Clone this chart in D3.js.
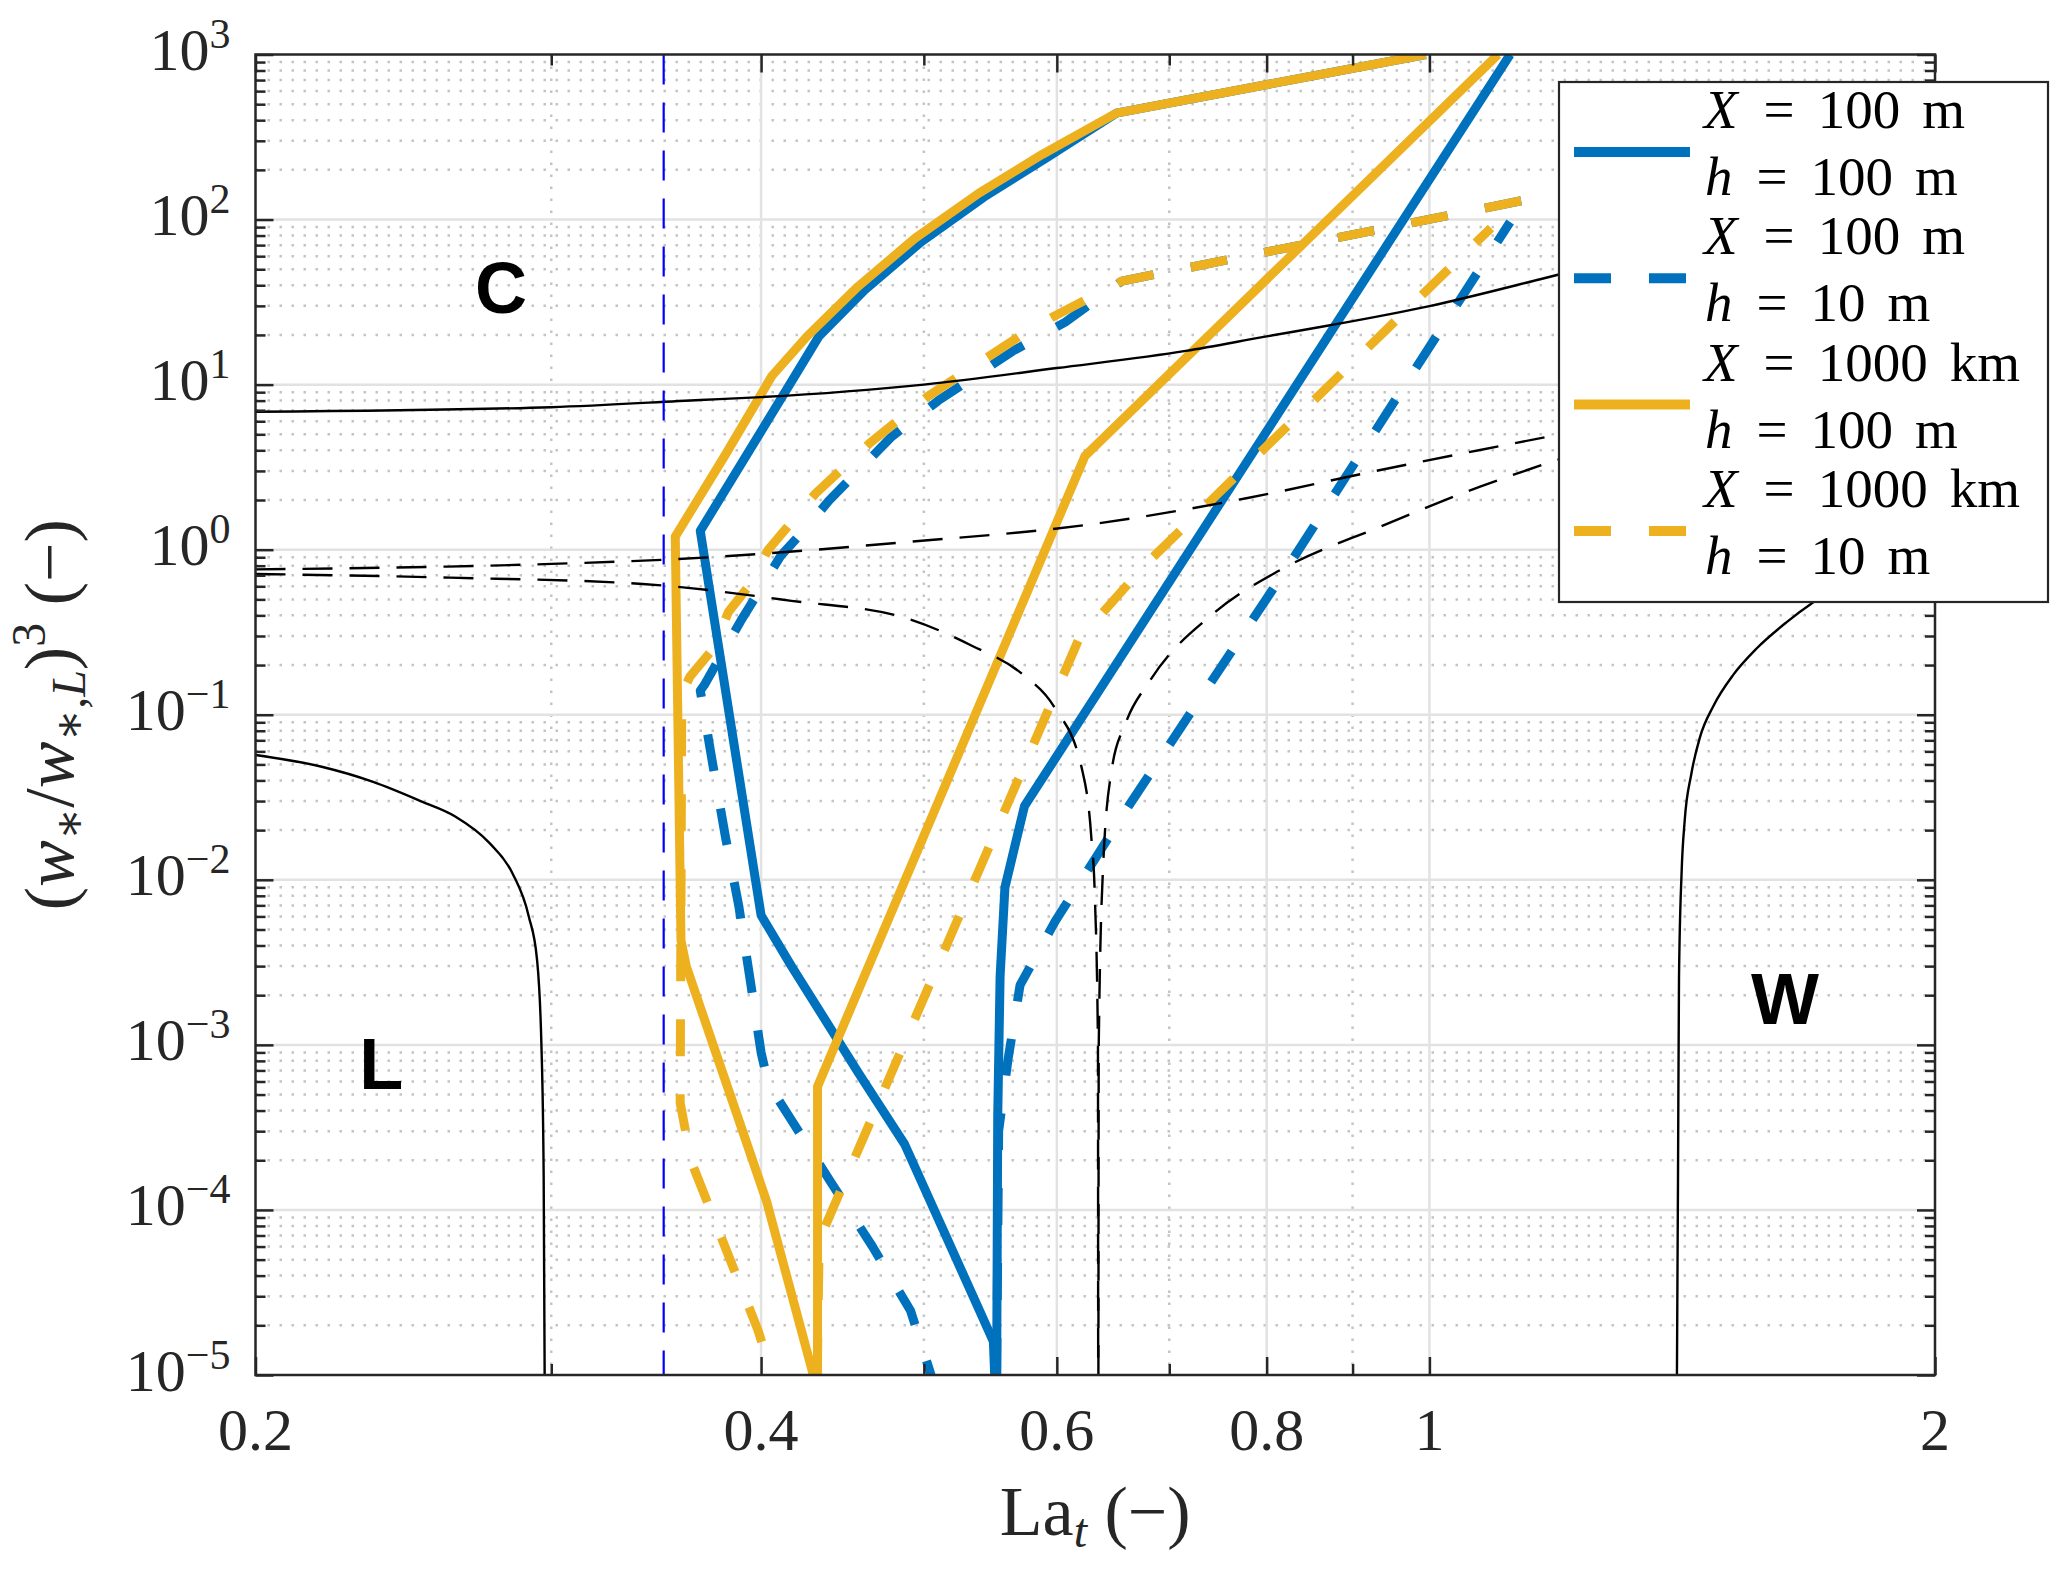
<!DOCTYPE html>
<html>
<head>
<meta charset="utf-8">
<script src="https://cdn.jsdelivr.net/npm/d3@7"></script>
<style>
  body { margin: 0; background: #fff; }
</style>
</head>
<body>
<div id="chart"></div>
<script>
// axis ticks
const xTicks = [0.2, 0.4, 0.6, 0.8, 1, 2];
const xTickLabels = ["0.2", "0.4", "0.6", "0.8", "1", "2"];
const xMinorTicks = [0.3, 0.5, 0.7, 0.9];
const yTicks = [1e-5, 1e-4, 1e-3, 1e-2, 1e-1, 1, 10, 100, 1000];
const yTickExponents = ["−5", "−4", "−3", "−2", "−1", "0", "1", "2", "3"];

// coloured curves, [La_t, (w*/w*L)^3], each series in two branches
const blueSolid = [
  [[0.995, 1000], [0.651, 441], [0.593, 240], [0.543, 137], [0.498, 73], [0.461, 37.4], [0.433, 19.6],
   [0.419, 11.3], [0.368, 1.3], [0.400, 6.1e-3], [0.417, 3.0e-3], [0.457, 6.8e-4], [0.487, 2.5e-4],
   [0.550, 1.6e-5], [0.551, 1e-5]],
  [[0.5525, 1e-5], [0.5533, 3.7e-4], [0.5551, 2.6e-3], [0.5588, 9.0e-3], [0.574, 0.028], [1.117, 1000]]
];
const blueDashed = [
  [[1.134, 130], [0.656, 42.4], [0.607, 23.9], [0.565, 16.0], [0.510, 8.0], [0.478, 4.8], [0.439, 1.98],
   [0.424, 1.30], [0.411, 0.92], [0.389, 0.37], [0.370, 0.151], [0.368, 0.14], [0.374, 0.053],
   [0.381, 0.018], [0.388, 6.9e-3], [0.394, 2.5e-3], [0.400, 9e-4], [0.404, 5.8e-4], [0.417, 3.5e-4],
   [0.441, 1.43e-4], [0.466, 6.0e-5], [0.491, 2.45e-5], [0.505, 1e-5]],
  [[0.5525, 1e-5], [0.554, 3e-4], [0.561, 8e-4], [0.5705, 2.3e-3], [0.5986, 5.6e-3], [0.6323, 0.0134],
   [0.6633, 0.0288], [0.825, 0.81], [0.972, 10.8], [1.117, 96.6]]
];
const orangeSolid = [
  [[0.995, 1000], [0.651, 441], [0.588, 248], [0.539, 144], [0.494, 77], [0.457, 39.4], [0.426, 19.6],
   [0.406, 11.3], [0.381, 3.78], [0.3556, 1.2], [0.3584, 4.3e-3], [0.361, 3.0e-3], [0.403, 1.13e-4],
   [0.4297, 1e-5]],
  [[0.4322, 1e-5], [0.4322, 5.6e-4], [0.6236, 3.7], [1.0986, 1000]]
];
const orangeDashed = [
  [[1.134, 130], [0.656, 42.4], [0.597, 25.8], [0.570, 19.6], [0.502, 8.4], [0.464, 4.4], [0.431, 2.19],
   [0.417, 1.47], [0.404, 1.0], [0.393, 0.595], [0.3825, 0.42], [0.3747, 0.252], [0.3628, 0.17],
   [0.3588, 0.134], [0.358, 4.45e-4], [0.3636, 1.95e-4], [0.3983, 1.87e-5], [0.406, 1e-5]],
  [[0.432, 1e-5], [0.433, 5e-5], [0.4366, 7.9e-5], [0.618, 0.283], [0.677, 0.807], [0.844, 7.2], [1.088, 88.9]]
];

// black regime boundaries
const boundaryC = [[0.2, 6.85], [0.3, 7.3], [0.368, 8.07], [0.4, 8.4], [0.5, 10.0], [0.6, 12.6], [0.716, 16.0],
  [0.8, 19.6], [0.871, 22.8], [1.0, 29.9], [1.164, 43.5], [1.5, 85], [2.0, 170]];
const boundaryL = [[0.2, 0.057], [0.219, 0.0484], [0.235, 0.0392], [0.251, 0.0299], [0.263, 0.0242],
  [0.2755, 0.0168], [0.2844, 0.011], [0.2909, 6.0e-3], [0.2942, 3.3e-3], [0.296, 9.8e-4], [0.2969, 1.6e-4],
  [0.2973, 1e-5]];
const boundaryW = [[1.404, 1e-5], [1.406, 1.38e-4], [1.408, 2.55e-3], [1.413, 0.011], [1.419, 0.0228],
  [1.432, 0.0438], [1.449, 0.073], [1.476, 0.113], [1.517, 0.175], [1.566, 0.252], [1.632, 0.364],
  [1.696, 0.487], [1.8, 0.7], [2.0, 1.2]];
const dashedUpper = [[0.2, 0.76], [0.26, 0.79], [0.3, 0.82], [0.355, 0.875], [0.487, 1.11], [0.634, 1.44],
  [0.778, 2.05], [0.935, 3.04], [1.072, 4.02], [1.191, 4.95], [2.0, 13]];
const dashedLower = [
  [[0.2, 0.713], [0.261, 0.677], [0.34, 0.62], [0.417, 0.49], [0.487, 0.387], [0.534, 0.262], [0.572, 0.177],
   [0.598, 0.111], [0.621, 0.047], [0.629, 0.0183], [0.632, 8.3e-3], [0.6348, 1e-3], [0.635, 1e-5]],
  [[0.6352, 1e-5], [0.6355, 1e-3], [0.6394, 0.0124], [0.647, 0.047], [0.659, 0.0875], [0.682, 0.162],
   [0.744, 0.412], [0.815, 0.753], [0.935, 1.38], [1.072, 2.41], [1.191, 3.49], [2.0, 12]]
];
const verticalLa = 0.35;

const regionNames = ["C", "L", "W"];
const regionLa = [0.28, 0.2376, 1.628];
const regionW = [27.2, 5.4e-4, 1.34e-3];

const legendX = ["100", "100", "1000", "1000"];
const legendXUnit = ["m", "m", "km", "km"];
const legendH = ["100", "10", "100", "10"];

const margin = { top: 54.5, right: 132, bottom: 195, left: 255.5 },
    width = 2067 - margin.left - margin.right,
    height = 1570 - margin.top - margin.bottom;

const serif = "'Liberation Serif', 'DejaVu Serif', serif";
const ink = "#262626";
const blue = "#0072BD", orange = "#EDB120";

const svg = d3.select("#chart")
    .append("svg")
    .attr("width", 2067)
    .attr("height", 1570)
    .append("g")
    .attr("transform", `translate(${margin.left},${margin.top})`);

const x = d3.scaleLog().domain([0.2, 2]).range([0, width]);
const y = d3.scaleLog().domain([1e-5, 1e3]).range([height, 0]);

const yMinor = [];
for (let k = -5; k < 3; k++) for (let m = 2; m <= 9; m++) yMinor.push(m * Math.pow(10, k));

// grid
const grid = svg.append("g");
grid.selectAll(".xminor").data(xMinorTicks).enter().append("line")
    .attr("x1", d => x(d)).attr("x2", d => x(d)).attr("y1", 0).attr("y2", height)
    .attr("stroke", "#c4c4c4").attr("stroke-width", 2.5).attr("stroke-dasharray", "2.5,9.5");
grid.selectAll(".yminor").data(yMinor).enter().append("line")
    .attr("x1", 0).attr("x2", width).attr("y1", d => y(d)).attr("y2", d => y(d))
    .attr("stroke", "#c4c4c4").attr("stroke-width", 2.5).attr("stroke-dasharray", "2.5,9.5");
grid.selectAll(".xmajor").data(xTicks.slice(1, -1)).enter().append("line")
    .attr("x1", d => x(d)).attr("x2", d => x(d)).attr("y1", 0).attr("y2", height)
    .attr("stroke", "#e2e2e2").attr("stroke-width", 2.5);
grid.selectAll(".ymajor").data(yTicks.slice(1, -1)).enter().append("line")
    .attr("x1", 0).attr("x2", width).attr("y1", d => y(d)).attr("y2", d => y(d))
    .attr("stroke", "#e2e2e2").attr("stroke-width", 2.5);

svg.append("clipPath").attr("id", "plot-clip")
    .append("rect").attr("width", width).attr("height", height);

const plot = svg.append("g").attr("clip-path", "url(#plot-clip)");
const straight = d3.line().x(d => x(d[0])).y(d => y(d[1]));
const smooth = d3.line().x(d => x(d[0])).y(d => y(d[1])).curve(d3.curveMonotoneX);

const series = [
  { branches: blueSolid, color: blue, dash: null },
  { branches: blueDashed, color: blue, dash: "37,38" },
  { branches: orangeSolid, color: orange, dash: null },
  { branches: orangeDashed, color: orange, dash: "37,38" }
];

series.forEach(s => {
  plot.selectAll(null).data(s.branches).enter().append("path")
      .attr("d", straight)
      .attr("fill", "none")
      .attr("stroke", s.color)
      .attr("stroke-width", 9)
      .attr("stroke-linejoin", "round")
      .attr("stroke-dasharray", s.dash);
});

// regime boundaries
[boundaryC, boundaryL, boundaryW].forEach(b => {
  plot.append("path").attr("d", smooth(b))
      .attr("fill", "none").attr("stroke", "#000").attr("stroke-width", 2.4);
});
[dashedUpper, ...dashedLower].forEach(b => {
  plot.append("path").attr("d", smooth(b))
      .attr("fill", "none").attr("stroke", "#000").attr("stroke-width", 2.4)
      .attr("stroke-dasharray", "30,17");
});

plot.append("line")
    .attr("x1", x(verticalLa)).attr("x2", x(verticalLa)).attr("y1", 0).attr("y2", height)
    .attr("stroke", "#0000FF").attr("stroke-width", 2.2).attr("stroke-dasharray", "30,18");

plot.selectAll(".region").data(regionNames).enter().append("text")
    .attr("x", (d, i) => x(regionLa[i]))
    .attr("y", (d, i) => y(regionW[i]))
    .attr("text-anchor", "middle")
    .attr("font-family", "'Liberation Sans', Arial, sans-serif")
    .attr("font-weight", "bold")
    .attr("font-size", 72)
    .text(d => d);

// ticks, all inward
function styleTicks(g) {
  g.select(".domain").remove();
  g.selectAll(".tick line").attr("stroke", ink).attr("stroke-width", 2.5);
}
svg.append("g").attr("transform", `translate(0,${height})`)
    .call(d3.axisBottom(x).tickValues(xTicks).tickSizeInner(-18).tickSizeOuter(0).tickFormat("")).call(styleTicks);
svg.append("g").attr("transform", `translate(0,${height})`)
    .call(d3.axisBottom(x).tickValues(xMinorTicks).tickSizeInner(-11).tickSizeOuter(0).tickFormat("")).call(styleTicks);
svg.append("g")
    .call(d3.axisTop(x).tickValues(xTicks).tickSizeInner(-18).tickSizeOuter(0).tickFormat("")).call(styleTicks);
svg.append("g")
    .call(d3.axisTop(x).tickValues(xMinorTicks).tickSizeInner(-11).tickSizeOuter(0).tickFormat("")).call(styleTicks);
svg.append("g")
    .call(d3.axisLeft(y).tickValues(yTicks).tickSizeInner(-18).tickSizeOuter(0).tickFormat("")).call(styleTicks);
svg.append("g")
    .call(d3.axisLeft(y).tickValues(yMinor).tickSizeInner(-10).tickSizeOuter(0).tickFormat("")).call(styleTicks);
svg.append("g").attr("transform", `translate(${width},0)`)
    .call(d3.axisRight(y).tickValues(yTicks).tickSizeInner(-18).tickSizeOuter(0).tickFormat("")).call(styleTicks);
svg.append("g").attr("transform", `translate(${width},0)`)
    .call(d3.axisRight(y).tickValues(yMinor).tickSizeInner(-10).tickSizeOuter(0).tickFormat("")).call(styleTicks);

svg.append("rect").attr("width", width).attr("height", height)
    .attr("fill", "none").attr("stroke", ink).attr("stroke-width", 2.5);

// tick labels
svg.selectAll(".xlab").data(xTickLabels).enter().append("text")
    .attr("x", (d, i) => x(xTicks[i]))
    .attr("y", height + 75)
    .attr("text-anchor", "middle")
    .attr("font-family", serif).attr("font-size", 60).attr("fill", ink)
    .text(d => d);

const ylab = svg.selectAll(".ylab").data(yTickExponents).enter().append("text")
    .attr("x", -25)
    .attr("y", (d, i) => y(yTicks[i]) + 15.5)
    .attr("text-anchor", "end")
    .attr("font-family", serif).attr("font-size", 60).attr("fill", ink);
ylab.append("tspan").text("10");
ylab.append("tspan").attr("font-size", 42).attr("dy", -22).text(d => d);

// axis titles
const xt = svg.append("text")
    .attr("x", width / 2).attr("y", height + 160)
    .attr("text-anchor", "middle")
    .attr("font-family", serif).attr("font-size", 70).attr("fill", ink);
xt.append("tspan").text("La");
xt.append("tspan").attr("font-style", "italic").attr("font-size", 48).attr("dy", 12).text("t");
xt.append("tspan").attr("dy", -12).text(" (−)");

const yt = svg.append("text")
    .attr("transform", `translate(${73 - margin.left},${height / 2}) rotate(-90)`)
    .attr("text-anchor", "middle")
    .attr("font-family", serif).attr("font-size", 70).attr("fill", ink);
yt.append("tspan").text("(");
yt.append("tspan").attr("font-style", "italic").text("w");
yt.append("tspan").attr("font-size", 48).attr("dy", 12).text("∗");
yt.append("tspan").attr("dy", -12).text("/");
yt.append("tspan").attr("font-style", "italic").text("w");
yt.append("tspan").attr("font-size", 48).attr("dy", 12).text("∗,");
yt.append("tspan").attr("font-size", 48).attr("font-style", "italic").text("L");
yt.append("tspan").attr("dy", -12).text(")");
yt.append("tspan").attr("font-size", 48).attr("dy", -28).text("3");
yt.append("tspan").attr("dy", 28).text(" (−)");

// legend
const legend = svg.append("g").attr("transform", `translate(${1559 - margin.left},${82 - margin.top})`);
legend.append("rect").attr("width", 489).attr("height", 520)
    .attr("fill", "#fff").attr("stroke", ink).attr("stroke-width", 2.2);
const entries = legend.selectAll(".entry").data(series).enter().append("g")
    .attr("transform", (d, i) => `translate(0,${i * 126.3})`);
entries.append("line")
    .attr("x1", 15).attr("x2", 131).attr("y1", 70).attr("y2", 70)
    .attr("stroke", d => d.color).attr("stroke-width", 10)
    .attr("stroke-dasharray", d => d.dash);
const l1 = entries.append("text").attr("x", 145).attr("y", 46)
    .attr("font-family", serif).attr("font-size", 55).attr("fill", "#000");
l1.append("tspan").attr("font-style", "italic").text("X");
l1.append("tspan").attr("dx", 26).text("=");
l1.append("tspan").attr("dx", 23).text((d, i) => legendX[i]);
l1.append("tspan").attr("dx", 22).text((d, i) => legendXUnit[i]);
const l2 = entries.append("text").attr("x", 146).attr("y", 113)
    .attr("font-family", serif).attr("font-size", 55).attr("fill", "#000");
l2.append("tspan").attr("font-style", "italic").text("h");
l2.append("tspan").attr("dx", 24).text("=");
l2.append("tspan").attr("dx", 23).text((d, i) => legendH[i]);
l2.append("tspan").attr("dx", 22).text("m");
</script>
</body>
</html>
